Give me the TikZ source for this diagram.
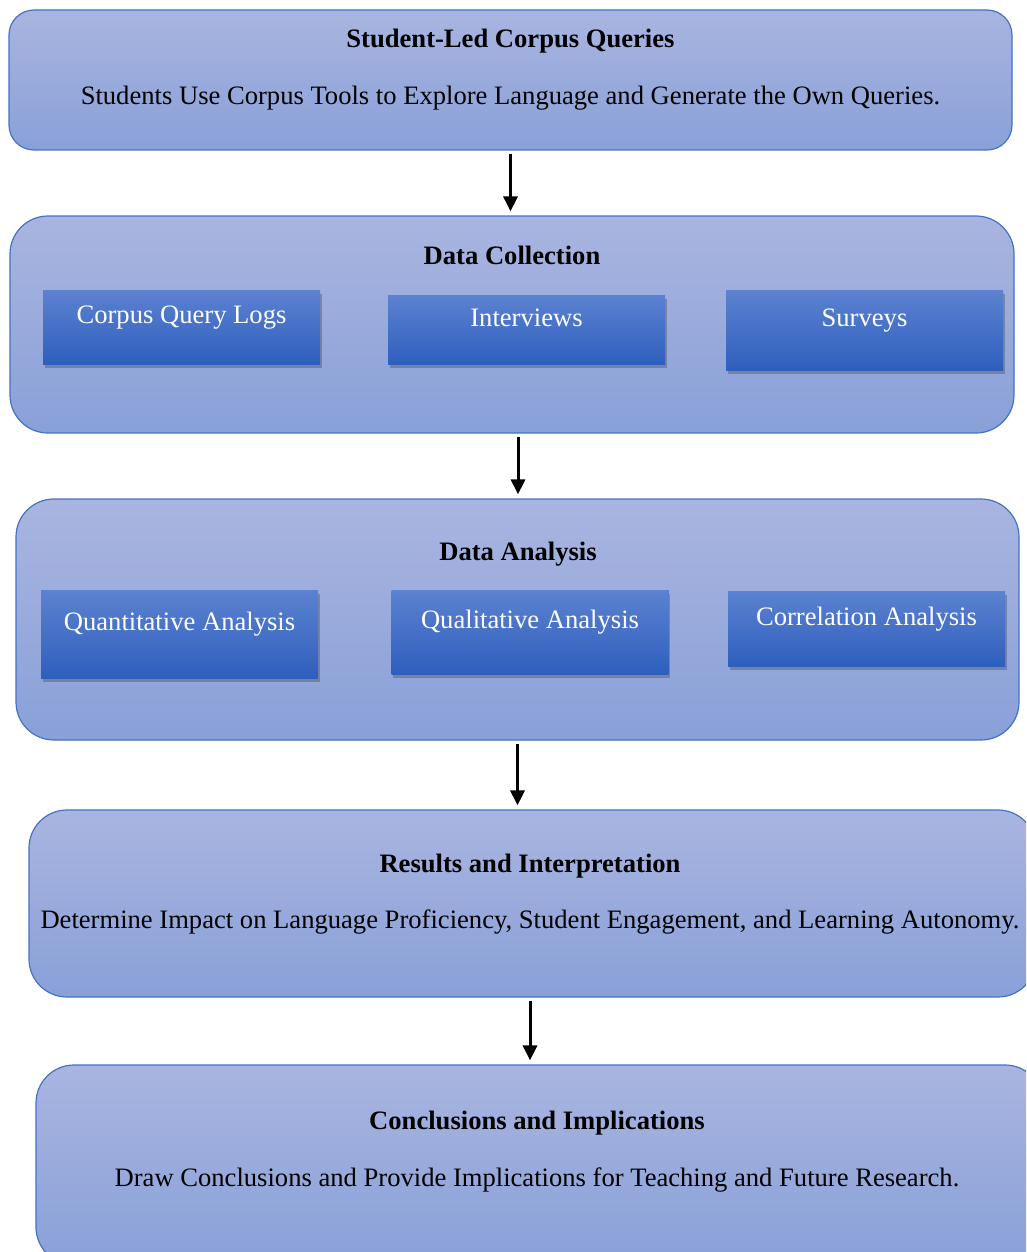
\documentclass[tikz,border=0pt]{standalone}
\usepackage{fontspec}
\setmainfont{Liberation Serif}
\usepackage{tikz}
\usetikzlibrary{arrows.meta, positioning, shadows}
\definecolor{outtop}{RGB}{169,181,224}
\definecolor{outbot}{RGB}{137,160,216}
\definecolor{outline}{RGB}{68,114,196}
\definecolor{intop}{RGB}{92,130,208}
\definecolor{inbot}{RGB}{46,95,190}

\begin{document}
\begin{tikzpicture}[x=1pt, y=-1pt,
    group/.style={draw=outline, line width=1.2pt, top color=outtop, bottom color=outbot,
                  rounded corners=38pt, minimum width=1003pt, inner sep=0pt},
    item/.style n args={3}{fill=inbot, top color=intop, bottom color=inbot, inner sep=0pt,
                  minimum width=277pt, minimum height=#1pt, text height=#2pt, text depth=#3pt,
                  text=white, font=\fontsize{26.6}{30}\selectfont,
                  drop shadow={shadow xshift=1.5pt, shadow yshift=-3.5pt, opacity=0.4, fill=black!70}},
    head/.style={anchor=base, font=\fontsize{26.6}{30}\selectfont\bfseries},
    body/.style={anchor=base, font=\fontsize{26.6}{30}\selectfont},
    flow/.style={-{Triangle[length=15pt, width=14pt]}, line width=3pt, shorten <=3pt, shorten >=4pt},
]
    \useasboundingbox (0,0) rectangle (1026,1252);
    \clip (0,0) rectangle (1026,1252);

    % Student-led queries
    \node[group, rounded corners=25pt, minimum height=140pt] (queries) at (510.5, 80) {};
    \node[head] (queriesT) at (510.5, 48) {Student-Led Corpus Queries};
    \node[body] (queriesB) at (510.5, 105) {Students Use Corpus Tools to Explore Language and Generate the Own Queries.};

    % Data collection group
    \node[group, minimum width=1004pt, minimum height=217pt] (collect) at (512, 324.5) {};
    \node[head] (collectT) at (512, 264) {Data Collection};
    \node[item={74}{33}{41}] (logs) at (181.5, 327) {Corpus Query Logs};
    \node[item={69}{31}{38}] (interviews) at (526.5, 329.5) {Interviews};
    \node[item={80}{36}{44}] (surveys) at (864.5, 330) {Surveys};

    % Data analysis group
    \node[group, minimum height=241pt] (analysis) at (517.5, 619.5) {};
    \node[head] (analysisT) at (518, 560) {Data Analysis};
    \node[item={88}{40}{48}] (quant) at (179.5, 634) {Quantitative Analysis};
    \node[item={84}{38}{46}] (qual) at (530, 632) {Qualitative Analysis};
    \node[item={75}{34}{41}] (corr) at (866.5, 628.5) {Correlation Analysis};

    % Results group
    \node[group, minimum width=1007pt, minimum height=187pt] (results) at (532.5, 903.5) {};
    \node[head] (resultsT) at (530, 872) {Results and Interpretation};
    \node[body] (resultsB) at (530, 928) {Determine Impact on Language Proficiency, Student Engagement, and Learning Autonomy.};

    % Conclusions group
    \node[group, minimum width=1007pt, minimum height=200pt] (concl) at (539.5, 1165) {};
    \node[head] (conclT) at (537, 1129) {Conclusions and Implications};
    \node[body] (conclB) at (537, 1186) {Draw Conclusions and Provide Implications for Teaching and Future Research.};

    % Arrows
    \draw[flow] (queries.south) -- (queries.south |- collect.north);
    \draw[flow] (collect.south -| analysisT) -- (analysis.north -| analysisT);
    \draw[flow] (analysis.south) -- (analysis.south |- results.north);
    \draw[flow] (results.south -| resultsT) -- (concl.north -| resultsT);
\end{tikzpicture}
\end{document}
